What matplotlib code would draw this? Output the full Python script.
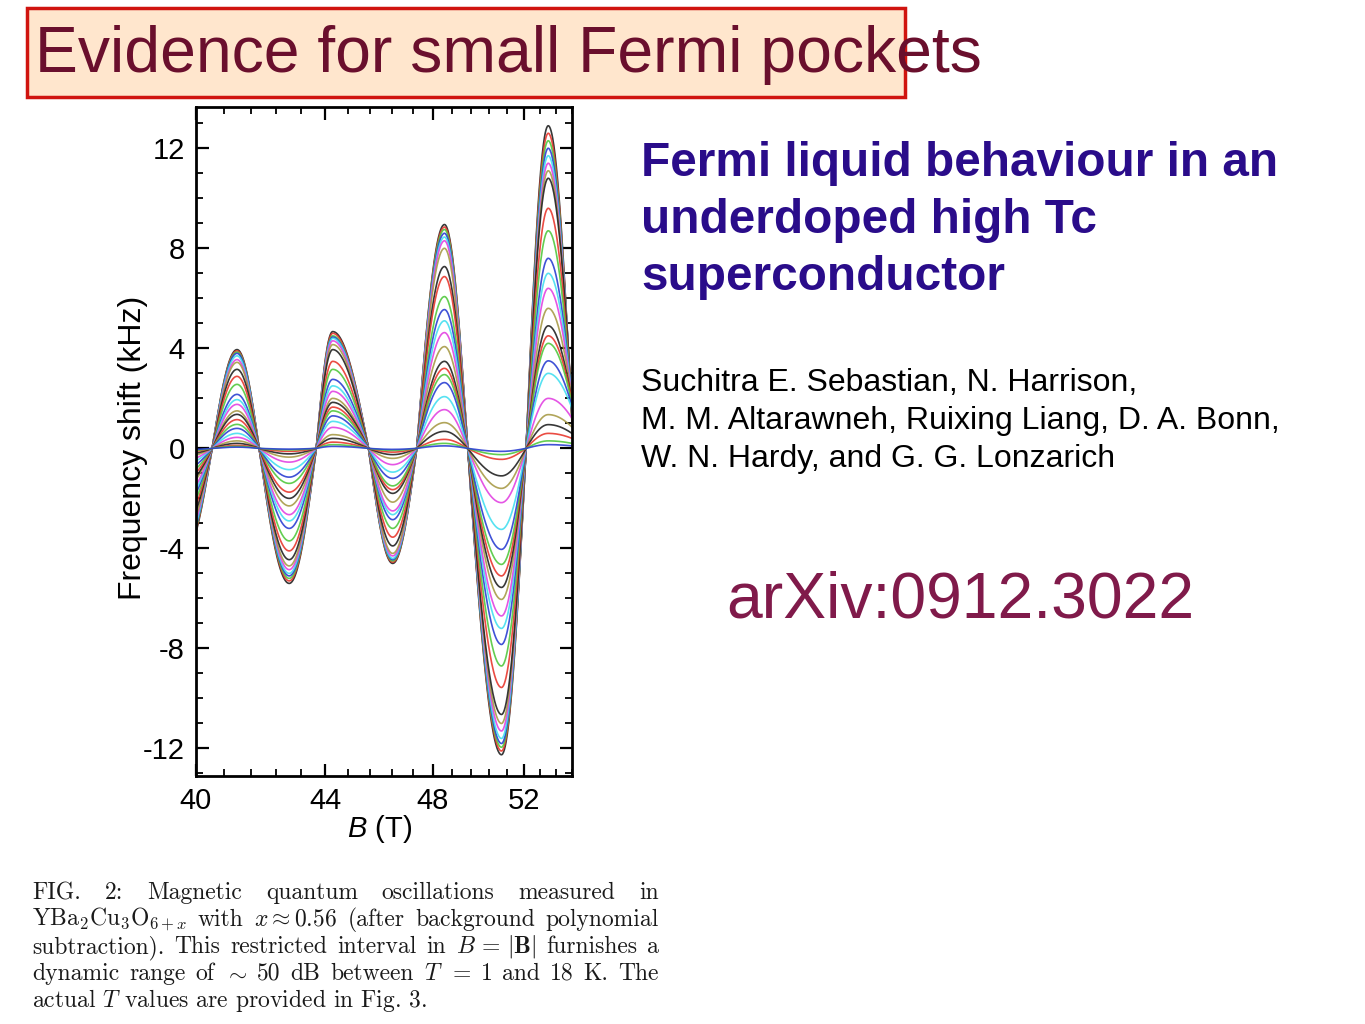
import numpy as np
import matplotlib.pyplot as plt
from matplotlib.patches import Rectangle

plt.rcParams.update({
    'font.family': 'Liberation Sans',
    'mathtext.fontset': 'custom',
    'mathtext.rm': 'Liberation Sans',
    'mathtext.it': 'Liberation Sans:italic',
    'mathtext.bf': 'Liberation Sans:bold',
})

W, H = 1365, 1024

# ---------------------------------------------------------------------------
# Data (B in tesla, shift in kHz), one value per curve,
# curves ordered from lowest T (largest amplitude) to highest T
# ---------------------------------------------------------------------------
node_B = [39.66, 40.46, 41.19, 41.86, 42.81, 43.70, 44.26, 45.53,
          46.43, 47.36, 48.48, 49.46, 50.96, 52.11, 53.19]
edge_B = 54.4

trough_39 = [-4.3, -4.2, -4.1, -4.0, -3.9, -3.7, -3.5, -3.2, -2.9, -2.6, -2.3, -2.1, -1.9,
             -1.6, -1.45, -1.25, -1.05, -0.85, -0.65, -0.5, -0.35, -0.25, -0.15, -0.1, -0.05]
peak_41 = [3.95, 3.9, 3.85, 3.8, 3.7, 3.55, 3.44, 3.16, 2.88, 2.56, 2.16, 1.95, 1.76,
           1.5, 1.36, 1.15, 0.96, 0.8, 0.6, 0.44, 0.3, 0.2, 0.12, 0.08, 0.05]
trough_43 = [-5.4, -5.3, -5.2, -5.1, -5.0, -4.85, -4.7, -4.45, -4.1, -3.7, -3.2, -2.9, -2.65,
             -2.3, -2.0, -1.75, -1.4, -1.15, -0.85, -0.55, -0.35, -0.22, -0.12, -0.06, -0.03]
peak_44 = [4.67, 4.6, 4.5, 4.45, 4.4, 4.3, 4.15, 3.95, 3.48, 3.16, 2.76, 2.5, 2.28,
           2.0, 1.84, 1.65, 1.5, 1.3, 1.08, 0.84, 0.55, 0.4, 0.25, 0.15, 0.08]
trough_46 = [-4.6, -4.55, -4.5, -4.45, -4.4, -4.3, -4.2, -3.9, -3.55, -3.2, -2.85, -2.65, -2.5,
             -2.15, -1.8, -1.65, -1.5, -1.2, -0.95, -0.65, -0.4, -0.25, -0.15, -0.08, -0.04]
peak_48 = [8.95, 8.85, 8.75, 8.6, 8.45, 8.3, 8.0, 7.27, 6.87, 6.07, 5.55, 5.1, 4.63,
           4.07, 3.48, 3.2, 2.95, 2.63, 2.07, 1.55, 1.03, 0.68, 0.36, 0.2, 0.1]
trough_51 = [-12.25, -12.1, -11.95, -11.8, -11.6, -11.3, -11.0, -10.64, -9.56, -8.7, -7.84,
             -7.2, -6.7, -6.04, -5.56, -5.1, -4.64, -4.04, -3.24, -2.17, -1.6, -1.1, -0.44,
             -0.25, -0.12]
peak_53 = [12.9, 12.6, 12.3, 12.0, 11.7, 11.4, 11.1, 10.8, 9.6, 8.7, 7.6, 7.0, 6.4,
           5.6, 4.9, 4.5, 4.2, 3.5, 3.0, 2.0, 1.35, 0.95, 0.6, 0.3, 0.15]
edge_54 = [1.0, 1.1, 1.2, 1.3, 1.4, 1.5, 1.6, 1.7, 1.8, 1.9, 2.0, 2.0, 2.0,
           2.0, 1.9, 1.9, 1.8, 1.7, 1.6, 1.2, 0.85, 0.6, 0.4, 0.2, 0.1]

line_colors = ['#222222', '#e8382e', '#52c83e', '#2b3fd2', '#45dff0', '#e243e2', '#a89b48']

x_major = [40, 44, 48, 52]
y_major = [-12, -8, -4, 0, 4, 8, 12]

caption_lines = [
    ['FIG.', '2:', ' Magnetic', 'quantum', 'oscillations', 'measured', 'in'],
    ['YBa$_2$Cu$_3$O$_{6+x}$', 'with', r'$x \approx 0.56$', '(after', 'background', 'polynomial'],
    ['subtraction).', 'This', 'restricted', 'interval', 'in', r'$B\,=\,|\mathbf{B}|$',
     'furnishes', 'a'],
    ['dynamic', 'range', 'of', r'$\sim$', '50', 'dB', 'between', '$T$', '=', '1', 'and',
     '18', 'K.', 'The'],
]
caption_last = 'actual $T$ values are provided in Fig. 3.'


def build_curve(k, n=60):
    """Join the read extrema of curve k with quarter-wave arcs in 1/B."""
    ext = [trough_39[k], peak_41[k], trough_43[k], peak_44[k],
           trough_46[k], peak_48[k], trough_51[k], peak_53[k]]
    vals = [ext[i // 2] if i % 2 == 0 else 0.0 for i in range(len(node_B))]
    u_nodes = 1.0 / np.array(node_B)
    t = np.linspace(0, 1, n)
    us, ys = [], []
    for i in range(len(node_B) - 1):
        u = u_nodes[i] + (u_nodes[i + 1] - u_nodes[i]) * t
        if vals[i] != 0:
            y = vals[i] * np.cos(np.pi / 2 * t)
        else:
            y = vals[i + 1] * np.sin(np.pi / 2 * t)
        us.append(u)
        ys.append(y)
    A, v = peak_53[k], edge_54[k]
    th = np.arccos(np.clip(v / A, -1, 1))
    u = u_nodes[-1] + (1.0 / edge_B - u_nodes[-1]) * t
    us.append(u)
    ys.append(A * np.cos(th * t))
    return 1.0 / np.concatenate(us), np.concatenate(ys)


def inv_b(b):
    b = np.asarray(b, dtype=float)
    with np.errstate(divide='ignore', invalid='ignore'):
        return -1.0 / np.where(b == 0, 1e-12, b)


fig = plt.figure(figsize=(W / 100, H / 100), dpi=100)


def fx(x):
    return x / W


def fy(y):
    return 1 - y / H


# ---- title box ----
fig.patches.append(Rectangle((fx(27), fy(97)), fx(905 - 27), (97 - 8) / H,
                             transform=fig.transFigure, fc='#FFE6CD', ec='#D0140F',
                             lw=2.5, zorder=0))
fig.text(fx(35), fy(72), 'Evidence for small Fermi pockets', fontsize=46.3,
         color='#6A0F2D', va='baseline', ha='left', zorder=2)

# ---- oscillation plot ----
ax = fig.add_axes([fx(196), fy(776), fx(572 - 196), (776 - 107) / H])
ax.set_xscale('function', functions=(inv_b, inv_b))
for k in range(len(peak_53)):
    B, y = build_curve(k)
    ax.plot(B, y, color=line_colors[k % len(line_colors)], lw=1.2, alpha=0.9)

ax.set_xlim(40, edge_B)
ax.set_ylim(-13.1, 13.65)
ax.set_xticks(x_major, labels=[str(v) for v in x_major])
ax.set_xticks(np.arange(40, 54.41, 0.8), minor=True)
ax.set_yticks(y_major, labels=[str(v) for v in y_major])
ax.set_yticks(np.arange(-13, 14, 1), minor=True)
ax.tick_params(which='both', direction='in', top=True, right=True,
               labelsize=21, pad=8)
ax.tick_params(which='major', length=9, width=1.6)
ax.tick_params(which='minor', length=5, width=1.3)
for s in ax.spines.values():
    s.set_linewidth(2)

ax.set_ylabel('Frequency shift (kHz)', fontsize=23)
ax.yaxis.set_label_coords(-0.128, 0.49)
ax.set_xlabel('$B$ (T)', fontsize=21, va='top')
ax.xaxis.set_label_coords(0.489, -0.056)

# ---- right side text ----
for i, line in enumerate(['Fermi liquid behaviour in an', 'underdoped high Tc',
                          'superconductor']):
    fig.text(fx(641), fy(176 + 57 * i), line, fontsize=34.4, fontweight='bold',
             color='#2A0C8A', va='baseline')
for i, line in enumerate(['Suchitra E. Sebastian, N. Harrison,',
                          'M. M. Altarawneh, Ruixing Liang, D. A. Bonn,',
                          'W. N. Hardy, and G. G. Lonzarich']):
    fig.text(fx(641), fy(391 + 38 * i), line, fontsize=23, color='black',
             va='baseline')
fig.text(fx(726), fy(617), 'arXiv:0912.3022', fontsize=46.3, color='#801A4A',
         va='baseline')

# ---- caption (justified, serif) ----
cap_kw = dict(fontsize=17, family='cmr10', math_fontfamily='cm',
              va='baseline', ha='left', color='#1a1a1a')
renderer = fig.canvas.get_renderer()
x0, x1 = 32, 659
for i, words in enumerate(caption_lines):
    yb = fy(899 + 27 * i)
    texts = [fig.text(0, yb, w.strip(), **cap_kw) for w in words]
    widths = [t.get_window_extent(renderer).width for t in texts]
    gap = (x1 - x0 - sum(widths)) / (len(words) - 1)
    x = x0
    for t, w in zip(texts, widths):
        t.set_x(fx(x))
        x += w + gap
fig.text(fx(x0), fy(899 + 27 * 4), caption_last, **cap_kw)

fig.savefig('out.png', dpi=100)
